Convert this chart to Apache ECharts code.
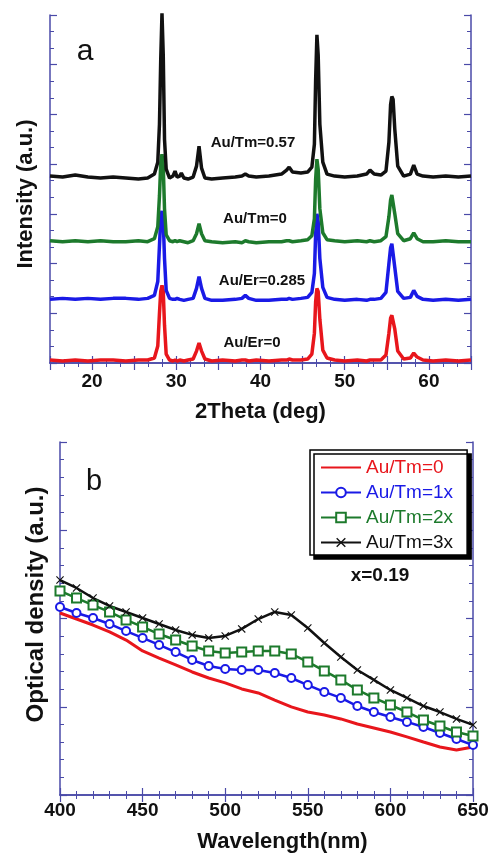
<!DOCTYPE html>
<html><head><meta charset="utf-8">
<script src="https://cdn.jsdelivr.net/npm/echarts@6/dist/echarts.min.js"></script>
<style>html,body{margin:0;padding:0;background:#fff}#c{width:492px;height:855px}</style>
</head><body><div id="c"></div>
<script>
// ---- XRD (panel a) ----
const theta = [15,16.5,18,19.5,21,22.5,24,25.5,26.6,
27.4,27.8,28.0,28.15,28.3,28.45,28.6,28.8,
29.2,29.6,29.85,30.1,30.4,30.6,30.9,31.4,
32.0,32.4,32.7,33.0,33.4,34.2,35.5,
37.0,37.8,38.2,38.6,39.5,
41.0,42.5,43.1,43.4,43.8,44.8,
45.6,46.1,46.4,46.55,46.7,46.85,47.05,47.4,47.9,
48.8,50.0,51.5,52.6,53.0,53.5,
54.3,54.9,55.25,55.45,55.6,55.75,55.95,56.3,
57.0,57.8,58.2,58.6,59.3,
60.5,62.0,63.5,65];
const xrdTm057 = [188,187,189,187,186,187,186,185,186,
190,202,240,305,352,310,225,195,
186,188,193,187,188,191,186,185,
187,198,218,196,186,185,186,
187,188,190,188,187,
188,190,194,197,192,191,
192,197,220,285,330,310,240,202,190,
188,187,188,190,194,190,
189,193,222,260,268,265,235,198,
188,190,199,190,188,
187,188,187,188];
const xrdTm0 = [123,122,123,122,123,122,122,123,122,
125,137,168,200,210,198,155,129,
123,122,123,122,123,122,122,121,
123,130,140,130,123,122,121,
122,121,123,122,121,
122,122,123,123,122,123,
124,128,145,185,205,195,155,131,124,
123,122,123,122,123,122,
123,127,147,164,169,167,150,130,
123,125,131,125,122,
122,123,122,122];
const xrdEr0285 = [64,65,64,65,64,65,65,64,65,
68,82,118,145,153,143,105,73,
65,64,64,65,64,64,63,64,
65,75,87,75,65,63,63,
64,65,68,65,63,
63,64,64,65,64,65,
66,71,90,130,150,142,105,76,66,
64,63,64,63,64,64,
65,71,100,116,120,118,96,72,
65,66,73,67,64,
63,64,63,64];
const xrdEr0 = [3,2,3,2,3,3,2,3,3,
5,17,50,72,78,72,38,9,
3,2,3,2,3,2,2,3,
4,12,20,12,4,2,3,
2,3,3,2,3,
2,3,3,4,3,3,
4,9,30,62,75,72,44,13,5,
3,2,3,2,3,3,
3,8,30,45,48,47,34,12,
4,5,10,6,3,
2,3,2,3];
const xrdNames = ['Au/Er=0','Au/Er=0.285','Au/Tm=0','Au/Tm=0.57'];
const thetaTicks = [20,30,40,50,60];

// ---- Optical density (panel b) ----
const wavelength = [400,410,420,430,440,450,460,470,480,490,500,510,520,530,540,550,560,570,580,590,600,610,620,630,640,650];
const odTm0  = [1.031,0.997,0.963,0.924,0.878,0.816,0.776,0.737,0.697,0.663,0.635,0.601,0.578,0.538,0.499,0.470,0.453,0.431,0.402,0.380,0.357,0.329,0.300,0.272,0.255,0.272];
const odTm1x = [1.065,1.031,1.003,0.969,0.929,0.890,0.850,0.810,0.765,0.731,0.714,0.708,0.708,0.691,0.663,0.623,0.584,0.550,0.504,0.470,0.442,0.414,0.385,0.351,0.317,0.283];
const odTm2x = [1.156,1.116,1.076,1.037,0.992,0.952,0.912,0.878,0.844,0.816,0.805,0.810,0.816,0.816,0.799,0.754,0.703,0.652,0.595,0.550,0.510,0.470,0.425,0.391,0.357,0.334];
const odTm3x = [1.218,1.173,1.116,1.071,1.037,1.003,0.969,0.935,0.907,0.890,0.901,0.941,0.997,1.037,1.020,0.946,0.861,0.782,0.708,0.652,0.595,0.550,0.504,0.470,0.431,0.397];
const odNames = ['Au/Tm=0','Au/Tm=1x','Au/Tm=2x','Au/Tm=3x'];

const RED='#e8161c', BLUE='#1a1ae6', GREEN='#1d7a2c', BLACK='#111111', AX='#4a4aa8';
const FONT='"Liberation Sans", Arial, sans-serif';
const zip=(xs,ys)=>xs.map((x,i)=>[x,ys[i]]);

const chart = echarts.init(document.getElementById('c'), null, {renderer:'canvas'});

function axisCommon(split){
  return {
    axisLine:{show:true,lineStyle:{color:AX,width:1.5}},
    axisTick:{show:true,inside:true,length:7,lineStyle:{color:AX,width:1.2}},
    minorTick:{show:true,splitNumber:split,length:4,lineStyle:{color:AX,width:1}},
    splitLine:{show:false}
  };
}
const crossPath='path://M0,1L1,0L5,4L9,0L10,1L6,5L10,9L9,10L5,6L1,10L0,9L4,5Z';
const titleStyle={fontSize:22,fontWeight:'bold',color:'#111',fontFamily:FONT};
const tickLabel={fontSize:19,fontWeight:'bold',color:'#111',fontFamily:FONT};

const option = {
  animation:false,
  backgroundColor:'#fff',
  textStyle:{fontFamily:FONT},
  grid:[
    {left:50, top:15, width:421, height:348},
    {left:60, top:442, width:413, height:353}
  ],
  xAxis:[
    Object.assign(axisCommon(3),{gridIndex:0,type:'value',min:15,max:65,interval:5,
      axisLabel:Object.assign({show:true,margin:9,formatter:v=>thetaTicks.indexOf(v)>=0?String(v):''},tickLabel),
      name:'2Theta (deg)',nameLocation:'middle',nameGap:38,nameTextStyle:titleStyle}),
    Object.assign(axisCommon(3),{gridIndex:0,type:'value',position:'top',min:15,max:65,interval:5,
      axisLabel:{show:false}}),
    Object.assign(axisCommon(5),{gridIndex:1,type:'value',min:400,max:650,interval:50,
      axisLabel:Object.assign({show:true,margin:6},tickLabel),
      name:'Wavelength(nm)',nameLocation:'middle',nameGap:36,
      nameTextStyle:Object.assign({},titleStyle,{padding:[0,0,0,32]})}),
    Object.assign(axisCommon(5),{gridIndex:1,type:'value',position:'top',min:400,max:650,interval:50,
      axisLabel:{show:false}})
  ],
  yAxis:[
    Object.assign(axisCommon(3),{gridIndex:0,type:'value',min:0,max:350,interval:50,
      axisLabel:{show:false},
      name:'Intensity (a.u.)',nameLocation:'middle',nameGap:13,
      nameTextStyle:Object.assign({},titleStyle,{padding:[0,10,0,0]})}),
    Object.assign(axisCommon(3),{gridIndex:0,type:'value',position:'right',min:0,max:350,interval:50,
      axisLabel:{show:false}}),
    Object.assign(axisCommon(5),{gridIndex:1,type:'value',min:0,max:2,interval:0.5,
      axisLabel:{show:false},
      name:'Optical density (a.u.)',nameLocation:'middle',nameGap:12,
      nameTextStyle:Object.assign({},titleStyle,{fontSize:24,padding:[0,0,0,28]})}),
    Object.assign(axisCommon(5),{gridIndex:1,type:'value',position:'right',min:0,max:2,interval:0.5,
      axisLabel:{show:false}})
  ],
  legend:{
    data:[
      {name:odNames[0],textStyle:{color:RED},itemStyle:{opacity:0}},
      {name:odNames[1],textStyle:{color:BLUE}},
      {name:odNames[2],textStyle:{color:GREEN}},
      {name:odNames[3],textStyle:{color:BLACK}}
    ],
    orient:'vertical',left:310,top:450,
    itemWidth:40,itemHeight:12,itemGap:6,
    padding:[8,14,3,10],
    textStyle:{fontSize:19,fontFamily:FONT},
    backgroundColor:'#fff',borderColor:'#000',borderWidth:1.5,borderRadius:0,
    shadowColor:'#000',shadowBlur:0,shadowOffsetX:4,shadowOffsetY:4
  },
  series:[
    {name:'XRD '+xrdNames[0],type:'line',xAxisIndex:0,yAxisIndex:0,data:zip(theta,xrdEr0),symbol:'none',lineStyle:{color:RED,width:3.5},itemStyle:{color:RED}},
    {name:'XRD '+xrdNames[1],type:'line',xAxisIndex:0,yAxisIndex:0,data:zip(theta,xrdEr0285),symbol:'none',lineStyle:{color:BLUE,width:3.5},itemStyle:{color:BLUE}},
    {name:'XRD '+xrdNames[2],type:'line',xAxisIndex:0,yAxisIndex:0,data:zip(theta,xrdTm0),symbol:'none',lineStyle:{color:GREEN,width:3.5},itemStyle:{color:GREEN}},
    {name:'XRD '+xrdNames[3],type:'line',xAxisIndex:0,yAxisIndex:0,data:zip(theta,xrdTm057),symbol:'none',lineStyle:{color:BLACK,width:3.5},itemStyle:{color:BLACK}},

    {name:odNames[0],type:'line',xAxisIndex:2,yAxisIndex:2,data:zip(wavelength,odTm0),symbol:'none',lineStyle:{color:RED,width:3},itemStyle:{color:RED}},
    {name:odNames[1],type:'line',xAxisIndex:2,yAxisIndex:2,data:zip(wavelength,odTm1x),symbol:'emptyCircle',symbolSize:8,lineStyle:{color:BLUE,width:2.5},itemStyle:{color:BLUE,borderColor:BLUE,borderWidth:1.3}},
    {name:odNames[2],type:'line',xAxisIndex:2,yAxisIndex:2,data:zip(wavelength,odTm2x),symbol:'emptyRect',symbolSize:9,lineStyle:{color:GREEN,width:2.5},itemStyle:{color:GREEN,borderColor:GREEN,borderWidth:1.3}},
    {name:odNames[3],type:'line',xAxisIndex:2,yAxisIndex:2,data:zip(wavelength,odTm3x),symbol:crossPath,symbolSize:8,lineStyle:{color:BLACK,width:2.5},itemStyle:{color:BLACK}}
  ],
  graphic:[
    {type:'text',x:85,y:52,style:{text:'a',fontSize:30,fontFamily:FONT,fill:'#111',align:'center',verticalAlign:'middle'}},
    {type:'text',x:253,y:143,style:{text:xrdNames[3],fontSize:15,fontWeight:'bold',fontFamily:FONT,fill:'#111',align:'center',verticalAlign:'middle'}},
    {type:'text',x:255,y:219,style:{text:xrdNames[2],fontSize:15,fontWeight:'bold',fontFamily:FONT,fill:'#111',align:'center',verticalAlign:'middle'}},
    {type:'text',x:262,y:281,style:{text:xrdNames[1],fontSize:15,fontWeight:'bold',fontFamily:FONT,fill:'#111',align:'center',verticalAlign:'middle'}},
    {type:'text',x:252,y:343,style:{text:xrdNames[0],fontSize:15,fontWeight:'bold',fontFamily:FONT,fill:'#111',align:'center',verticalAlign:'middle'}},
    {type:'text',x:94,y:482,style:{text:'b',fontSize:29,fontFamily:FONT,fill:'#111',align:'center',verticalAlign:'middle'}},
    {type:'text',x:380,y:576,style:{text:'x=0.19',fontSize:19,fontWeight:'bold',fontFamily:FONT,fill:'#111',align:'center',verticalAlign:'middle'}}
  ]
};
chart.setOption(option);
</script>
</body></html>
